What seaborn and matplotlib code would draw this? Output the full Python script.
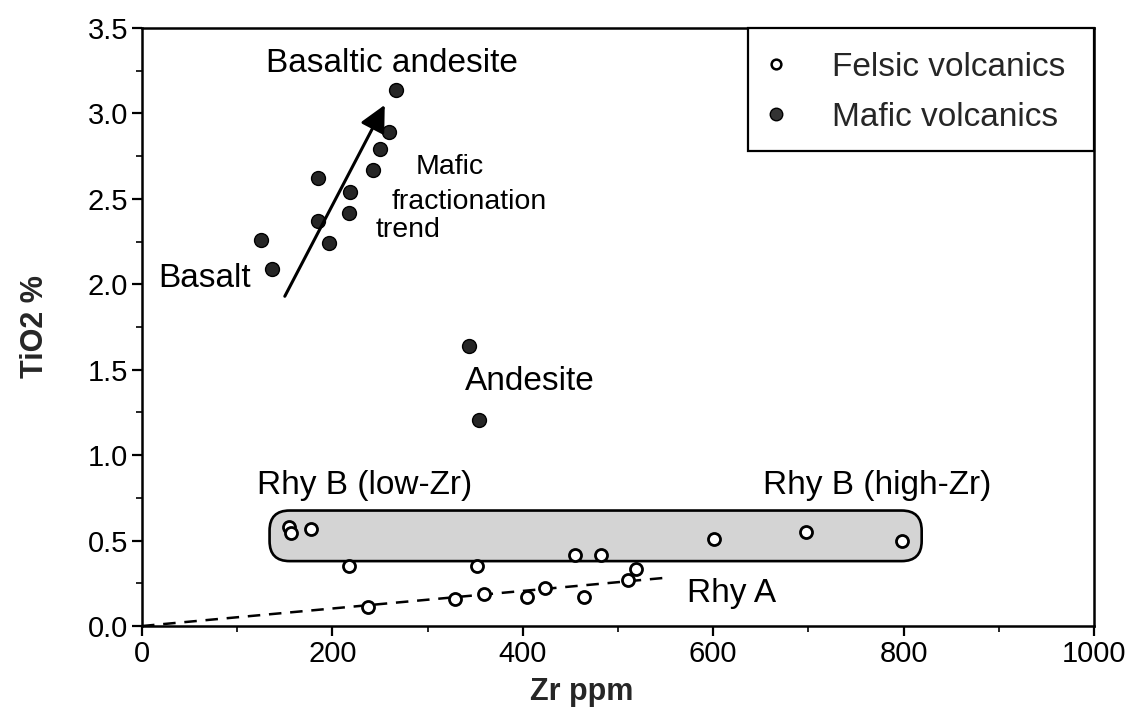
import matplotlib
matplotlib.use("Agg")
import matplotlib.pyplot as plt
from matplotlib.patches import FancyBboxPatch, Rectangle
from matplotlib.lines import Line2D
from matplotlib.ticker import MultipleLocator
import numpy as np
import pandas as pd
import seaborn as sns

# Felsic volcanics (Zr ppm, TiO2 %)
felsic_zr = [154, 157, 177, 217, 352, 237, 329, 359, 404, 423, 464, 511, 519, 455, 482, 601, 698, 798]
felsic_tio2 = [0.58, 0.545, 0.57, 0.35, 0.35, 0.11, 0.16, 0.19, 0.17, 0.22, 0.17, 0.27, 0.335, 0.415, 0.415, 0.51, 0.55, 0.50]

# Mafic volcanics (Zr ppm, TiO2 %)
mafic_zr = [125, 137, 185, 185, 196, 217, 219, 243, 250, 259, 267, 344, 354]
mafic_tio2 = [2.26, 2.09, 2.62, 2.37, 2.24, 2.42, 2.54, 2.67, 2.79, 2.89, 3.14, 1.64, 1.205]

# Rhy A trend line end points
rhyA_zr = [0, 555]
rhyA_tio2 = [0.0, 0.285]

# Mafic fractionation arrow (start, end)
arrow_zr = [150, 255]
arrow_tio2 = [1.93, 3.05]

# Rhy B field extent
rhyB_zr = [134, 819]
rhyB_tio2 = [0.38, 0.676]

x_ticks = [0, 200, 400, 600, 800, 1000]
y_ticks = [0.0, 0.5, 1.0, 1.5, 2.0, 2.5, 3.0, 3.5]

sns.set_style("ticks")
plt.rcParams["font.family"] = ["Liberation Sans", "DejaVu Sans"]

fig = plt.figure(figsize=(11.27, 7.19), dpi=100)
ax = fig.add_axes([0.126, 0.1293, 0.8447, 0.8317])

# Rhy B field: rounded stippled box
w = rhyB_zr[1] - rhyB_zr[0]
h = rhyB_tio2[1] - rhyB_tio2[0]
box = FancyBboxPatch((rhyB_zr[0], rhyB_tio2[0]), w, h,
                     boxstyle="round,pad=0,rounding_size=21",
                     mutation_aspect=0.00557,
                     facecolor="#d4d4d4", edgecolor="black", linewidth=1.9, zorder=1)
ax.add_patch(box)

# Rhy A dashed trend
ax.plot(rhyA_zr, rhyA_tio2, color="black", lw=1.8, dashes=(5, 3.5), zorder=2)

felsic = pd.DataFrame({"Zr": felsic_zr, "TiO2": felsic_tio2})
mafic = pd.DataFrame({"Zr": mafic_zr, "TiO2": mafic_tio2})

sns.scatterplot(data=felsic, x="Zr", y="TiO2", ax=ax, marker="o", s=75,
                facecolor="white", edgecolor="black", linewidth=2.0, zorder=3, legend=False)
sns.scatterplot(data=mafic, x="Zr", y="TiO2", ax=ax, marker="o", s=100,
                color="#262626", edgecolor="black", linewidth=1.0, zorder=3, legend=False)

# Fractionation arrow
ax.annotate("", xy=(arrow_zr[1], arrow_tio2[1]), xytext=(arrow_zr[0], arrow_tio2[0]),
            arrowprops=dict(arrowstyle="-|>,head_length=0.5,head_width=0.25", color="black",
                            lw=2.2, mutation_scale=32, shrinkA=0, shrinkB=0), zorder=4)

lab = dict(fontsize=24, color="black")
ax.text(262.6, 3.29, "Basaltic andesite", ha="center", va="center", **lab)
ax.text(16.8, 2.036, "Basalt", ha="left", va="center", **lab)
ax.text(339, 1.43, "Andesite", ha="left", va="center", **lab)
ax.text(120.5, 0.825, "Rhy B (low-Zr)", ha="left", va="center", **lab)
ax.text(652, 0.825, "Rhy B (high-Zr)", ha="left", va="center", **lab)
ax.text(572, 0.193, "Rhy A", ha="left", va="center", **lab)
small = dict(fontsize=20.5, color="black", ha="left", va="center")
ax.text(287.8, 2.686, "Mafic", **small)
ax.text(262.6, 2.48, "fractionation", **small)
ax.text(245.8, 2.317, "trend", **small)

ax.set_xlim(0, 1000)
ax.set_ylim(0, 3.5)
ax.set_xticks(x_ticks)
ax.set_yticks(y_ticks)
ax.set_yticklabels([f"{v:.1f}" for v in y_ticks])
ax.xaxis.set_minor_locator(MultipleLocator(100))
ax.yaxis.set_minor_locator(MultipleLocator(0.25))
ax.tick_params(which="major", direction="out", length=7, width=1.6, labelsize=21, colors="black", pad=3)
ax.tick_params(which="minor", direction="out", length=4, width=1.4)
for sp in ax.spines.values():
    sp.set_visible(True)
    sp.set_color("black")
    sp.set_linewidth(1.8)

ax.set_xlabel("Zr ppm", fontsize=22, fontweight="bold", labelpad=0)
ax.xaxis.set_label_coords(0.462, -0.085)
ax.set_ylabel("TiO2 %", fontsize=22, fontweight="bold", labelpad=0)
ax.yaxis.set_label_coords(-0.097, 0.5)

# Legend box flush with the top-right corner of the axes
frame = Rectangle((0.6366, 0.794), 0.3634, 0.206, transform=ax.transAxes,
                  facecolor="white", edgecolor="black", linewidth=1.6, zorder=5, clip_on=False)
ax.add_patch(frame)

handles = [
    Line2D([], [], marker="o", linestyle="none", markersize=7, markerfacecolor="white",
           markeredgecolor="black", markeredgewidth=1.8, label="Felsic volcanics"),
    Line2D([], [], marker="o", linestyle="none", markersize=9, markerfacecolor="#333333",
           markeredgecolor="black", label="Mafic volcanics"),
]
leg = ax.legend(handles=handles, loc="upper left", bbox_to_anchor=(0.648, 0.96),
                fontsize=24, frameon=False, borderaxespad=0, borderpad=0,
                handlelength=1.0, handletextpad=1.19, labelspacing=0.57)
leg.set_zorder(6)

fig.savefig("out.png", dpi=100, facecolor="white")
